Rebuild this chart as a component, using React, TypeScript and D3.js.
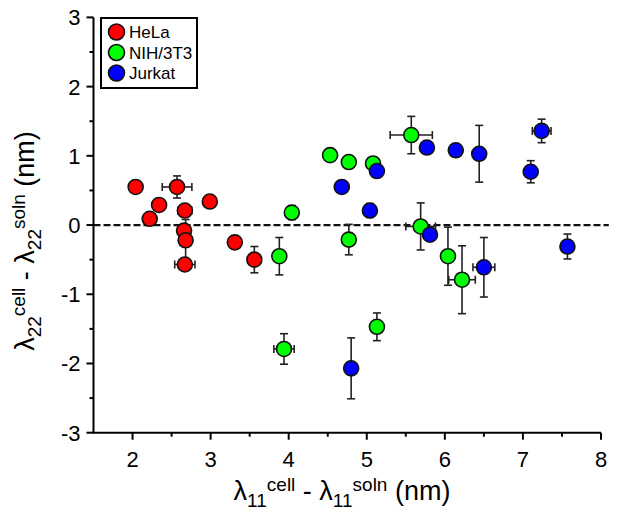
import React from "react";
import * as d3 from "d3";

const seriesNames = ["HeLa", "NIH/3T3", "Jurkat"];
const seriesColors = ["#ff0000", "#00ff00", "#0000ff"];

const helaX = [2.04, 2.22, 2.34, 2.57, 2.67, 2.66, 2.68, 2.67, 2.99, 3.31, 3.56];
const helaY = [0.55, 0.09, 0.29, 0.55, 0.21, -0.08, -0.22, -0.57, 0.34, -0.25, -0.5];
const helaXErr = [0.06, 0.05, 0.06, 0.19, 0.09, 0.03, 0.03, 0.13, 0.05, 0.04, 0.06];
const helaYErr = [0.07, 0.06, 0.07, 0.16, 0.07, 0.07, 0.3, 0.05, 0.07, 0.05, 0.19];

const nihX = [4.53, 4.77, 5.08, 5.57, 4.04, 3.88, 4.77, 3.94, 5.13, 5.69, 6.04, 6.22];
const nihY = [1.01, 0.91, 0.89, 1.3, 0.18, -0.45, -0.21, -1.79, -1.47, -0.02, -0.45, -0.79];
const nihXErr = [0.06, 0.05, 0.04, 0.27, 0.04, 0.03, 0.08, 0.13, 0.03, 0.19, 0.08, 0.17];
const nihYErr = [0.07, 0.06, 0.07, 0.27, 0.1, 0.27, 0.22, 0.22, 0.2, 0.34, 0.42, 0.49];

const jurkatX = [5.77, 6.14, 6.44, 7.24, 7.1, 5.04, 5.81, 6.5, 7.57, 4.8, 4.68, 5.13];
const jurkatY = [1.12, 1.08, 1.03, 1.36, 0.77, 0.21, -0.14, -0.61, -0.31, -2.07, 0.55, 0.78];
const jurkatXErr = [0.04, 0.05, 0.03, 0.12, 0.03, 0.03, 0.04, 0.14, 0.03, 0.03, 0.04, 0.04];
const jurkatYErr = [0.05, 0.06, 0.41, 0.17, 0.16, 0.1, 0.07, 0.43, 0.18, 0.44, 0.08, 0.08];

const xTicks = [2, 3, 4, 5, 6, 7, 8];
const xMinorTicks = [2.5, 3.5, 4.5, 5.5, 6.5, 7.5];
const yTicks = [-3, -2, -1, 0, 1, 2, 3];
const yMinorTicks = [-2.5, -1.5, -0.5, 0.5, 1.5, 2.5];

const W = 618;
const H = 528;
const FONT = "'Liberation Sans', Arial, sans-serif";

export default function App() {
  const x = d3.scaleLinear().domain([1.5, 8]).range([93.5, 601]);
  const y = d3.scaleLinear().domain([-3, 3]).range([432.7, 17.4]);

  const series = [
    { xs: helaX, ys: helaY, xe: helaXErr, ye: helaYErr },
    { xs: nihX, ys: nihY, xe: nihXErr, ye: nihYErr },
    { xs: jurkatX, ys: jurkatY, xe: jurkatXErr, ye: jurkatYErr },
  ];

  const R = 7.5;
  const cap = 4;
  const x0 = x(1.5);
  const yb = y(-3);

  return (
    <svg
      width={W}
      height={H}
      style={{ position: "absolute", left: 0, top: 0, background: "#fff" }}
      fontFamily={FONT}
    >
      <rect x={0} y={0} width={W} height={H} fill="#fff" />
      {/* zero dashed line */}
      <line
        x1={x0}
        x2={x(8.1)}
        y1={y(0)}
        y2={y(0)}
        stroke="#111"
        strokeWidth={2.2}
        strokeDasharray="7,3"
      />
      {/* axes */}
      <line x1={x0} x2={x0} y1={y(3)} y2={yb} stroke="#000" strokeWidth={2} />
      <line x1={x0 - 1} x2={x(8)} y1={yb} y2={yb} stroke="#000" strokeWidth={2} />
      {xTicks.map((t) => (
        <g key={"xt" + t}>
          <line x1={x(t)} x2={x(t)} y1={yb} y2={yb + 7} stroke="#000" strokeWidth={2} />
          <text x={x(t)} y={yb + 34} fontSize={22} textAnchor="middle" fill="#000">
            {t}
          </text>
        </g>
      ))}
      {xMinorTicks.map((t) => (
        <line key={"xm" + t} x1={x(t)} x2={x(t)} y1={yb} y2={yb + 4} stroke="#000" strokeWidth={2} />
      ))}
      {yTicks.map((t) => (
        <g key={"yt" + t}>
          <line x1={x0 - 7} x2={x0} y1={y(t)} y2={y(t)} stroke="#000" strokeWidth={2} />
          <text x={x0 - 13} y={y(t) + 8} fontSize={22} textAnchor="end" fill="#000">
            {t}
          </text>
        </g>
      ))}
      {yMinorTicks.map((t) => (
        <line key={"ym" + t} x1={x0 - 4} x2={x0} y1={y(t)} y2={y(t)} stroke="#000" strokeWidth={2} />
      ))}

      {/* error bars */}
      {series.map((s, si) =>
        s.xs.map((xv, i) => {
          const cx = x(xv);
          const cy = y(s.ys[i]);
          const xl = x(xv - s.xe[i]);
          const xr = x(xv + s.xe[i]);
          const yt = y(s.ys[i] + s.ye[i]);
          const ybt = y(s.ys[i] - s.ye[i]);
          return (
            <g key={"e" + si + "_" + i} stroke="#222" strokeWidth={1.6}>
              <line x1={cx} x2={cx} y1={yt} y2={ybt} />
              <line x1={cx - cap} x2={cx + cap} y1={yt} y2={yt} />
              <line x1={cx - cap} x2={cx + cap} y1={ybt} y2={ybt} />
              <line x1={xl} x2={xr} y1={cy} y2={cy} />
              <line x1={xl} x2={xl} y1={cy - cap} y2={cy + cap} />
              <line x1={xr} x2={xr} y1={cy - cap} y2={cy + cap} />
            </g>
          );
        })
      )}
      {/* markers */}
      {series.map((s, si) =>
        s.xs.map((xv, i) => (
          <circle
            key={"c" + si + "_" + i}
            cx={x(xv)}
            cy={y(s.ys[i])}
            r={R}
            fill={seriesColors[si]}
            stroke="#111"
            strokeWidth={1.6}
          />
        ))
      )}

      {/* legend */}
      <rect x={101} y={18} width={96} height={70} fill="#fff" stroke="#000" strokeWidth={2} />
      {seriesNames.map((n, i) => (
        <g key={"lg" + n}>
          <circle cx={116.5} cy={32 + i * 20.5} r={8} fill={seriesColors[i]} stroke="#111" strokeWidth={1.6} />
          <text x={129} y={32 + i * 20.5 + 6} fontSize={17} fill="#000">
            {n}
          </text>
        </g>
      ))}

      {/* x-axis title */}
      <text x={342} y={500} fontSize={27} textAnchor="middle" fill="#000">
        <tspan>λ</tspan>
        <tspan fontSize={19} dy={7}>11</tspan>
        <tspan fontSize={19} dy={-16}>cell</tspan>
        <tspan dy={9}> - λ</tspan>
        <tspan fontSize={19} dy={7}>11</tspan>
        <tspan fontSize={19} dy={-16}>soln</tspan>
        <tspan dy={9}> (nm)</tspan>
      </text>

      {/* y-axis title */}
      <text
        transform={`translate(34, 241) rotate(-90)`}
        fontSize={27}
        textAnchor="middle"
        fill="#000"
      >
        <tspan>λ</tspan>
        <tspan fontSize={19} dy={7}>22</tspan>
        <tspan fontSize={19} dy={-16}>cell</tspan>
        <tspan dy={9}> - λ</tspan>
        <tspan fontSize={19} dy={7}>22</tspan>
        <tspan fontSize={19} dy={-16}>soln</tspan>
        <tspan dy={9}> (nm)</tspan>
      </text>
    </svg>
  );
}
